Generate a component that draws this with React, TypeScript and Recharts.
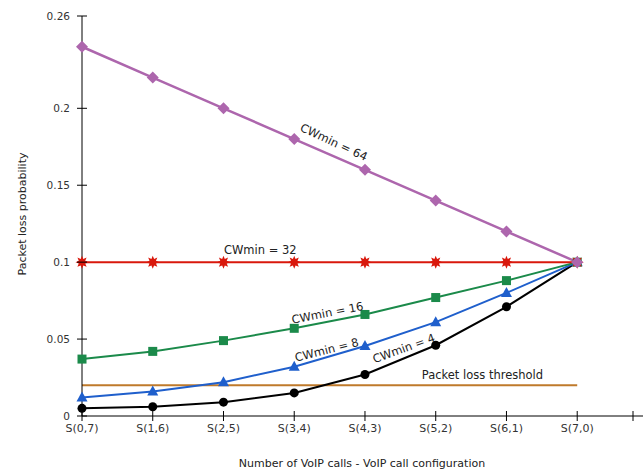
import React from 'react';
import { LineChart, Line, XAxis, YAxis, ReferenceDot } from 'recharts';

const categories = ['S(0,7)', 'S(1,6)', 'S(2,5)', 'S(3,4)', 'S(4,3)', 'S(5,2)', 'S(6,1)', 'S(7,0)'];
const cw64 = [0.24, 0.22, 0.2, 0.18, 0.16, 0.14, 0.12, 0.1];
const cw32 = [0.1, 0.1, 0.1, 0.1, 0.1, 0.1, 0.1, 0.1];
const cw16 = [0.037, 0.042, 0.049, 0.057, 0.066, 0.077, 0.088, 0.1];
const cw8 = [0.012, 0.016, 0.022, 0.032, 0.0455, 0.061, 0.08, 0.1];
const cw4 = [0.005, 0.006, 0.009, 0.015, 0.027, 0.046, 0.071, 0.1];
const threshold = [0.02, 0.02, 0.02, 0.02, 0.02, 0.02, 0.02, 0.02];

const yTicks = [0, 0.05, 0.1, 0.15, 0.2, 0.26];
const xTicks = [0, 1, 2, 3, 4, 5, 6, 7, 7.9];

// curve annotations: [text, x, y, angle]
const notes: [string, number, number, number][] = [
  ['CWmin = 64', 3.56, 0.178, 25],
  ['CWmin = 32', 2.52, 0.108, 0],
  ['CWmin = 16', 3.47, 0.067, -11],
  ['CWmin = 8', 3.46, 0.043, -14],
  ['CWmin = 4', 4.55, 0.044, -20],
  ['Packet loss threshold', 5.66, 0.0266, 0],
];

const data = categories.map((c, i) => ({
  x: i,
  cw64: cw64[i],
  cw32: cw32[i],
  cw16: cw16[i],
  cw8: cw8[i],
  cw4: cw4[i],
  threshold: threshold[i],
}));

const font = '"DejaVu Sans", sans-serif';

const COLORS = {
  cw64: '#ad66ad',
  cw32: '#d9180c',
  cw16: '#1b8a4a',
  cw8: '#1f5fcc',
  cw4: '#000000',
  threshold: '#bf7a2b',
};

const YTick = (props: any) => {
  const { x, y, payload } = props;
  return (
    <g>
      <line x1={x - 5} x2={x + 5} y1={y} y2={y} stroke="#000" />
      <text x={x - 12} y={y} dy={4} textAnchor="end" fontSize={10.5} fill="#333" fontFamily={font}>
        {String(payload.value)}
      </text>
    </g>
  );
};

const XTick = (props: any) => {
  const { x, y, payload } = props;
  const label = categories[payload.value] ?? '';
  return (
    <g>
      <line x1={x} x2={x} y1={y - 5} y2={y + 5} stroke="#000" />
      <text x={x} y={y} dy={16} textAnchor="middle" fontSize={11} fill="#333" fontFamily={font}>
        {label}
      </text>
    </g>
  );
};

const diamond = (color: string) => (p: any) => {
  const { cx, cy, index } = p;
  const s = 6;
  return (
    <polygon
      key={`d-${index}`}
      points={`${cx},${cy - s} ${cx + s},${cy} ${cx},${cy + s} ${cx - s},${cy}`}
      fill={color}
    />
  );
};

const star = (color: string) => (p: any) => {
  const { cx, cy, index } = p;
  const pts: string[] = [];
  for (let k = 0; k < 16; k++) {
    const r = k % 2 === 0 ? 6.5 : 3.5;
    const a = (Math.PI / 8) * k - Math.PI / 2;
    pts.push(`${cx + r * Math.cos(a)},${cy + r * Math.sin(a)}`);
  }
  return <polygon key={`s-${index}`} points={pts.join(' ')} fill={color} />;
};

const square = (color: string) => (p: any) => {
  const { cx, cy, index } = p;
  return <rect key={`q-${index}`} x={cx - 4.5} y={cy - 4.5} width={9} height={9} fill={color} />;
};

const triangle = (color: string) => (p: any) => {
  const { cx, cy, index } = p;
  return (
    <polygon
      key={`t-${index}`}
      points={`${cx},${cy - 6} ${cx + 5.5},${cy + 4} ${cx - 5.5},${cy + 4}`}
      fill={color}
    />
  );
};

const circle = (color: string) => (p: any) => {
  const { cx, cy, index } = p;
  return <circle key={`c-${index}`} cx={cx} cy={cy} r={4.5} fill={color} />;
};

const noteLabel = (text: string, angle: number) => (p: any) => {
  const vb = p.viewBox || {};
  const x = vb.x + (vb.width || 0) / 2;
  const y = vb.y + (vb.height || 0) / 2;
  return (
    <text
      x={x}
      y={y}
      dy={4}
      textAnchor="middle"
      fontSize={11.5}
      fill="#222"
      fontFamily={font}
      transform={`rotate(${angle} ${x} ${y})`}
    >
      {text}
    </text>
  );
};

export default function App() {
  return (
    <div style={{ position: 'absolute', left: 0, top: 0, background: '#fff' }}>
      <LineChart
        width={643}
        height={474}
        data={data}
        margin={{ top: 16, right: 0, bottom: 0, left: 0 }}
      >
        <XAxis
          dataKey="x"
          type="number"
          domain={[0, 7.93]}
          ticks={xTicks}
          height={58}
          tickSize={0}
          tickMargin={0}
          tickLine={false}
          tick={<XTick />}
          stroke="#000"
          allowDecimals
          label={{
            content: () => (
              <text x={362} y={467} textAnchor="middle" fontSize={11} fill="#222" fontFamily={font}>
                Number of VoIP calls - VoIP call configuration
              </text>
            ),
          }}
        />
        <YAxis
          type="number"
          domain={[0, 0.26]}
          ticks={yTicks}
          width={82}
          tickSize={0}
          tickMargin={0}
          tickLine={false}
          tick={<YTick />}
          stroke="#000"
          label={{
            content: () => (
              <text
                x={26}
                y={214}
                textAnchor="middle"
                fontSize={11}
                fill="#222"
                fontFamily={font}
                transform="rotate(-90 26 214)"
              >
                Packet loss probability
              </text>
            ),
          }}
        />
        <Line dataKey="threshold" stroke={COLORS.threshold} strokeWidth={2} dot={false} isAnimationActive={false} />
        <Line dataKey="cw4" stroke={COLORS.cw4} strokeWidth={2} dot={circle(COLORS.cw4)} isAnimationActive={false} />
        <Line dataKey="cw8" stroke={COLORS.cw8} strokeWidth={2} dot={triangle(COLORS.cw8)} isAnimationActive={false} />
        <Line dataKey="cw16" stroke={COLORS.cw16} strokeWidth={2} dot={square(COLORS.cw16)} isAnimationActive={false} />
        <Line dataKey="cw32" stroke={COLORS.cw32} strokeWidth={2} dot={star(COLORS.cw32)} isAnimationActive={false} />
        <Line dataKey="cw64" stroke={COLORS.cw64} strokeWidth={2.5} dot={diamond(COLORS.cw64)} isAnimationActive={false} />
        {notes.map(([text, x, y, angle]) => (
          <ReferenceDot
            key={text}
            x={x}
            y={y}
            r={0}
            fill="none"
            stroke="none"
            label={{ content: noteLabel(text, angle) }}
          />
        ))}
      </LineChart>
    </div>
  );
}
